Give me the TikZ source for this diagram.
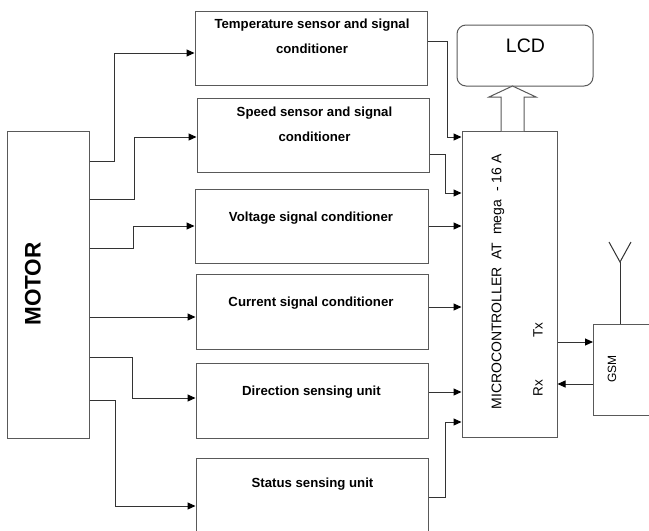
\documentclass[tikz,border=0pt]{standalone}
\usepackage{fontspec}
\setmainfont{Liberation Sans}
\usetikzlibrary{arrows.meta,calc}
\definecolor{boxc}{gray}{0.35}
\definecolor{linec}{gray}{0.2}
\begin{document}
\begin{tikzpicture}[x=1pt,y=-1pt,
  blk/.style={draw=boxc,line width=1pt,inner sep=0pt,minimum width=232pt,minimum height=74pt},
  lbl/.style={font=\fontsize{13.2}{25}\selectfont\bfseries,align=center,inner sep=0pt},
  conn/.style={draw=linec,line width=1pt,-{Triangle[length=8pt,width=7pt,color=black]}},
  wire/.style={draw=linec,line width=1pt}]
\useasboundingbox (0,0) rectangle (649,531);
\clip (0,0) rectangle (649,531);
% blocks
\node[draw=boxc,line width=1pt,minimum width=82pt,minimum height=307pt,inner sep=0pt] (motor) at (48,284.5) {};
\node[blk] (temp) at (311,48) {};
\node[blk] (speed) at (313,135) {};
\node[blk,minimum width=233pt] (volt) at (311.5,226) {};
\node[blk,minimum height=75pt] (curr) at (312,311.5) {};
\node[blk,minimum height=75pt] (dir) at (312,400.5) {};
\node[blk,minimum height=90pt] (stat) at (312,503) {};
\node[draw=boxc,line width=1pt,minimum width=95pt,minimum height=306pt,inner sep=0pt] (micro) at (509.5,284) {};
\node[draw=boxc,line width=1pt,rounded corners=9pt,minimum width=136pt,minimum height=61pt,inner sep=0pt] (lcd) at (525,55.5) {};
\node[draw=boxc,line width=1pt,minimum width=90pt,minimum height=91pt,inner sep=0pt,anchor=west] (gsm) at (593,369.5) {};
% texts
\node[font=\fontsize{22.5}{26}\selectfont\bfseries,rotate=90,inner sep=0pt] (motorT) at (33,284) {MOTOR};
\node[lbl] (tempT) at (312,36.5) {Temperature sensor and signal\\conditioner};
\node[lbl] (speedT) at (314.5,124.5) {Speed sensor and signal\\conditioner};
\node[lbl] (voltT) at (311,218) {Voltage signal conditioner};
\node[lbl] (currT) at (311,303) {Current signal conditioner};
\node[lbl] (dirT) at (311.5,392) {Direction sensing unit};
\node[lbl] (statT) at (312.5,484) {Status sensing unit};
\node[font=\fontsize{19.5}{22}\selectfont,inner sep=0pt] (lcdT) at (525.5,46) {LCD};
\node[font=\fontsize{14}{16}\selectfont,rotate=90,inner sep=0pt] (microT) at (498,282) {MICROCONTROLLER\ \ AT\ \ mega\ \ - 16 A};
\node[font=\fontsize{13.5}{16}\selectfont,rotate=90,inner sep=0pt] (txT) at (538,330) {Tx};
\node[font=\fontsize{13.5}{16}\selectfont,rotate=90,inner sep=0pt] (rxT) at (538,388) {Rx};
\node[font=\fontsize{12}{14}\selectfont,rotate=90,inner sep=0pt] (gsmT) at (612,369) {GSM};
% hollow arrow micro -> lcd
\draw[draw=boxc,line width=1pt,fill=white] (501,131) -- (501,97) -- (489,97) -- (512.5,86) -- (536,97) -- (524,97) -- (524,131);
% motor -> blocks
\draw[conn] (motor.east |- 0,161) -| (114,53) -- (temp.west |- 0,53);
\draw[conn] (motor.east |- 0,199) -| (134,137) -- (speed.west |- 0,137);
\draw[conn] (motor.east |- 0,248) -| (133,226) -- (volt.west);
\draw[conn] (motor.east |- 0,317) -- (curr.west |- 0,317);
\draw[conn] (motor.east |- 0,357) -| (132,398) -- (dir.west |- 0,398);
\draw[conn] (motor.east |- 0,400) -| (115,506) -- (stat.west |- 0,506);
% blocks -> micro
\draw[conn] (temp.east |- 0,41) -| (447,137) -- (micro.west |- 0,137);
\draw[conn] (speed.east |- 0,154) -| (445,193) -- (micro.west |- 0,193);
\draw[conn] (volt.east) -- (micro.west |- volt.east);
\draw[conn] (curr.east |- 0,307) -- (micro.west |- 0,307);
\draw[conn] (dir.east |- 0,392) -- (micro.west |- 0,392);
\draw[conn] (stat.east |- 0,497) -| (445,422) -- (micro.west |- 0,422);
% micro <-> gsm
\draw[conn] (micro.east |- 0,342) -- (gsm.west |- 0,342);
\draw[conn] (gsm.west |- 0,384) -- (micro.east |- 0,384);
% antenna
\coordinate (antB) at (620,262);
\coordinate (antL) at (609,242);
\coordinate (antR) at (631,242);
\draw[wire] (gsm.north -| 620,0) -- (antB);
\draw[wire] (antL) -- (antB) -- (antR);
\end{tikzpicture}
\end{document}
